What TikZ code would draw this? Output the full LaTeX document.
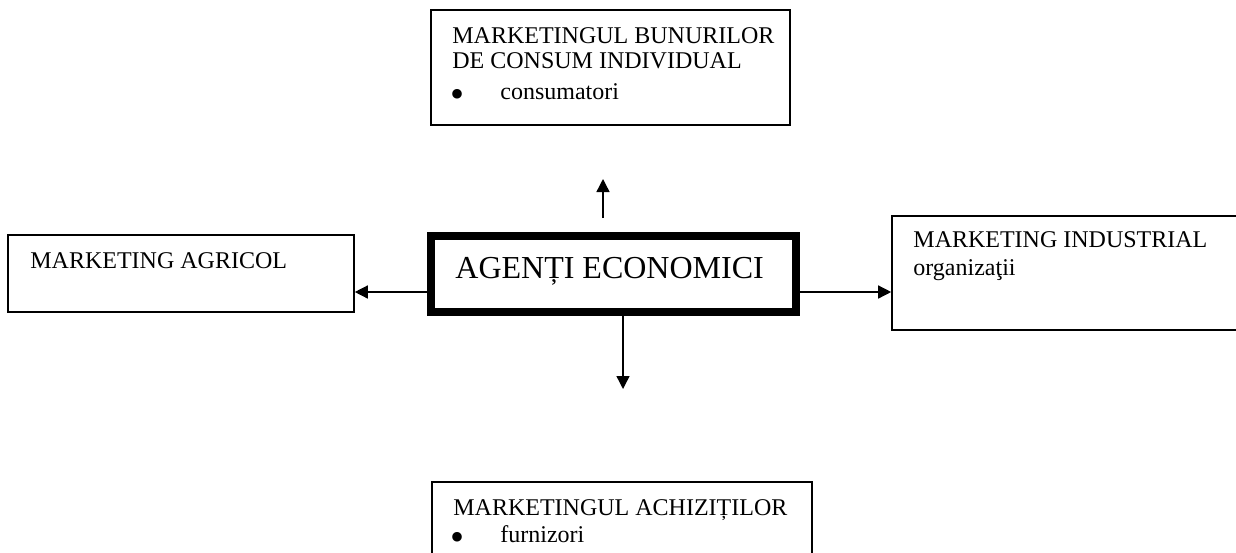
\documentclass[tikz,border=0pt]{standalone}
\usepackage{fontspec}
\setmainfont{Liberation Serif}
\usetikzlibrary{arrows.meta}
\tikzset{
  box/.style={draw, line width=0.8pt, rectangle, inner sep=0pt},
  mainbox/.style={draw, line width=4pt, rectangle, inner sep=0pt},
  txt/.style={anchor=base west, inner sep=0pt, font=\fontsize{12}{14}\selectfont},
  bul/.style={anchor=center, inner sep=0pt, font=\fontsize{20}{22}\selectfont},
  arr/.style={line width=0.7pt, -{Triangle[length=6.5pt,width=6.5pt]}}
}
\begin{document}
\begin{tikzpicture}[x=0.5pt,y=-0.5pt]
\useasboundingbox (0,0) rectangle (1236,552);
% boxes
\node[box, minimum width=179.5pt, minimum height=57.5pt] (top) at (610.5,67.5) {};
\node[box, minimum width=173pt, minimum height=38.5pt] (left) at (181,273.5) {};
\node[box, minimum width=176.5pt, minimum height=57pt] (right) at (1068.5,273) {};
\node[box, minimum width=190pt, minimum height=44pt] (bottom) at (622,526) {};
\node[mainbox, minimum width=182.5pt, minimum height=38pt] (center) at (613.5,274) {};
% texts
\node[txt] (t1) at (452,43) {MARKETINGUL BUNURILOR};
\node[txt] (t2) at (452,68) {DE CONSUM INDIVIDUAL};
\node[bul] (t3) at (457,98) {•};
\node[txt] (t4) at (500,99) {consumatori};
\node[txt] (t5) at (30,268) {MARKETING AGRICOL};
\node[txt, font=\fontsize{16}{19}\selectfont] (t6) at (455,278) {AGENȚI ECONOMICI};
\node[txt] (t7) at (913,247) {MARKETING INDUSTRIAL};
\node[txt] (t8) at (913,275) {organizaţii};
\node[txt] (t9) at (453,515) {MARKETINGUL ACHIZIȚILOR};
\node[bul] (t10) at (457,541) {•};
\node[txt] (t11) at (500,542) {furnizori};
% connectors
\coordinate (upfrom) at (603,218);
\coordinate (upto) at (603,179);
\coordinate (downto) at (623,389);
\draw[arr] (upfrom) -- (upto);
\draw[arr] (center.south -| downto) -- (downto);
\draw[arr] (center.west |- 0,292) -- (left.east |- 0,292);
\draw[arr] (center.east |- 0,292) -- (right.west |- 0,292);
\end{tikzpicture}
\end{document}
